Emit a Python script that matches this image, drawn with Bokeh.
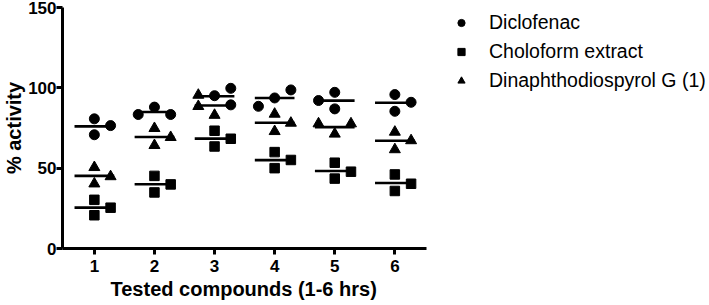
import numpy as np
from bokeh.plotting import figure
from bokeh.models import (ColumnDataSource, FixedTicker, Legend, LegendItem,
                          Range1d, Title)
from bokeh.embed import file_html
from bokeh.resources import INLINE

# ---- data ----
groups = [1, 2, 3, 4, 5, 6]
tick_labels = ["1", "2", "3", "4", "5", "6"]
series_names = ["Diclofenac", "Choloform extract", "Dinaphthodiospyrol G (1)"]
x_title = "Tested compounds (1-6 hrs)"
y_title = "% activity"

diclofenac = [[80.7, 70.8, 76.5], [88.0, 83.4, 83.4], [95.1, 99.7, 89.4],
              [93.7, 98.7, 88.5], [92.1, 97.2, 86.9], [95.8, 85.4, 91.0]]
choloform = [[30.3, 20.7, 25.4], [45.2, 34.9, 39.9], [73.3, 63.5, 68.3],
             [60.0, 50.0, 55.1], [53.4, 43.5, 47.8], [46.1, 35.8, 40.3]]
dinaphtho = [[50.5, 40.3, 44.8], [74.8, 64.2, 69.2], [95.5, 88.5, 83.0],
             [83.7, 78.1, 72.9], [77.7, 77.7, 71.3], [72.5, 61.6, 67.2]]

# horizontal spread of the points (-1 left, 0 centre, 1 right)
dic_spread = [[0, 0, 1], [0, -1, 1], [0, 1, 1], [0, 1, -1], [-1, 0, 0], [0, 0, 1]]
cho_spread = [[0, 0, 1]] * 6
din_spread = [[0, 0, 1], [0, 0, 1], [-1, -1, 0], [0, 1, 0], [-1, 1, 0], [0, 0, 1]]

SPREAD = 0.27
HALF = 0.33
X_START, X_AXIS_END = 0.47, 6.52
UNIT_PX = 60.1
FRAME_W = 709 - 62

p = figure(width=709, height=305, output_backend="svg", toolbar_location=None,
           x_range=Range1d(X_START, X_START + FRAME_W / UNIT_PX),
           y_range=Range1d(0, 150),
           min_border_left=62, min_border_right=0, min_border_top=7,
           min_border_bottom=57)
p.outline_line_color = None
p.xgrid.visible = False
p.ygrid.visible = False
p.background_fill_color = "white"
p.border_fill_color = "white"


def points(vals, spread):
    xs, ys = [], []
    for g, vv, ss in zip(groups, vals, spread):
        for v, s in zip(vv, ss):
            xs.append(g + s * SPREAD)
            ys.append(v)
    return ColumnDataSource(dict(x=xs, y=ys))


def means(vals):
    m = [float(np.mean(v)) for v in vals]
    return ColumnDataSource(dict(x0=[g - HALF for g in groups],
                                 x1=[g + HALF for g in groups], y=m))


renderers = []
for vals, spread, marker, size in [(diclofenac, dic_spread, "circle", 10),
                                   (choloform, cho_spread, "square", 9.5),
                                   (dinaphtho, din_spread, "triangle", 11)]:
    p.segment(x0="x0", x1="x1", y0="y", y1="y", source=means(vals),
              line_color="black", line_width=2.6)
    r = p.scatter(x="x", y="y", source=points(vals, spread), marker=marker,
                  size=size, fill_color="black", line_color="black")
    renderers.append(r)

font = "Liberation Sans"
for ax in (p.xaxis[0], p.yaxis[0]):
    ax.axis_line_width = 3
    ax.major_tick_line_width = 3
    ax.major_tick_in = 0
    ax.major_tick_out = 6
    ax.minor_tick_line_color = None
    ax.major_label_text_font = font
    ax.major_label_text_font_style = "bold"
    ax.major_label_text_font_size = "17px"
    ax.major_label_text_color = "black"
    ax.axis_label_text_font = font
    ax.axis_label_text_font_style = "bold"
    ax.axis_label_text_font_size = "20px"
    ax.axis_label_text_color = "black"

p.xaxis[0].ticker = FixedTicker(ticks=groups)
p.xaxis[0].bounds = (X_START, X_AXIS_END)
p.xaxis[0].major_label_overrides = {g: t for g, t in zip(groups, tick_labels)}
p.xaxis[0].major_label_standoff = 5
p.yaxis[0].ticker = FixedTicker(ticks=[0, 50, 100, 150])
p.yaxis[0].axis_label = y_title
p.yaxis[0].major_label_standoff = 0
p.yaxis[0].axis_label_standoff = 0

# x-axis title centred under the (bounded) axis
p.add_layout(Title(text=x_title, align="left", offset=48, standoff=2,
                   text_font=font, text_font_style="bold",
                   text_font_size="20px", text_color="black"), "below")

legend = Legend(items=[LegendItem(label=n, renderers=[r])
                       for n, r in zip(series_names, renderers)],
                location=(390, 153), margin=0, padding=0, spacing=0,
                glyph_width=18, glyph_height=29, label_height=29,
                label_standoff=19, label_text_font=font,
                label_text_font_size="19.5px", label_text_color="black",
                border_line_color=None, background_fill_alpha=0)
p.add_layout(legend, "center")

open("out.html", "w").write(file_html(p, INLINE))
